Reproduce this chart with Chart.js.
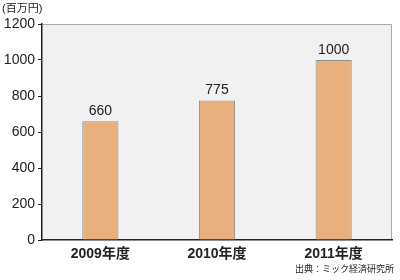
<!DOCTYPE html>
<html lang="ja">
<head>
<meta charset="UTF-8">
<title>売上推移</title>
<script src="https://cdn.jsdelivr.net/npm/chart.js"></script>
<style>
  html, body { margin: 0; padding: 0; background: #fff; }
  #wrap { width: 400px; height: 280px; }
</style>
</head>
<body>
<div id="wrap"><canvas id="c" width="400" height="280"></canvas></div>
<script>
// data
var years = ['2009年度', '2010年度', '2011年度'];
var sales = [660, 775, 1000];
var yTicks = [0, 200, 400, 600, 800, 1000, 1200];
var unitLabel = '(百万円)';
var sourceLabel = '出典：ミック経済研究所';

var font = '"Liberation Sans", "Noto Sans CJK JP", sans-serif';

// background, value labels, unit and source text
var extras = {
  id: 'extras',
  beforeDraw: function (chart) {
    var a = chart.chartArea, ctx = chart.ctx;
    ctx.save();
    ctx.fillStyle = '#f1f1f1';
    ctx.fillRect(a.left, a.top, a.right - a.left, a.bottom - a.top);
    ctx.strokeStyle = '#aaa';
    ctx.lineWidth = 1;
    ctx.beginPath();
    ctx.moveTo(a.left, a.top + 0.5);
    ctx.lineTo(a.right - 0.5, a.top + 0.5);
    ctx.lineTo(a.right - 0.5, a.bottom);
    ctx.stroke();
    ctx.restore();
  },
  afterDraw: function (chart) {
    var ctx = chart.ctx;
    var meta = chart.getDatasetMeta(0);
    ctx.save();
    ctx.fillStyle = '#222';
    ctx.font = '14px ' + font;
    ctx.textAlign = 'center';
    ctx.textBaseline = 'bottom';
    meta.data.forEach(function (bar, i) {
      ctx.fillText(String(sales[i]), bar.x, bar.y - 3);
    });
    ctx.font = '11px ' + font;
    ctx.textAlign = 'left';
    ctx.textBaseline = 'middle';
    ctx.fillText(unitLabel, 2, 9);
    ctx.font = '9px ' + font;
    ctx.textAlign = 'right';
    ctx.fillText(sourceLabel, 394, 270);
    ctx.restore();
  }
};

new Chart(document.getElementById('c'), {
  type: 'bar',
  data: {
    labels: years,
    datasets: [{
      data: sales,
      backgroundColor: '#e8b07c',
      borderColor: '#8e8e8e',
      borderWidth: 1,
      barPercentage: 0.62,
      categoryPercentage: 0.5
    }]
  },
  options: {
    responsive: false,
    animation: false,
    layout: { padding: { top: 24, right: 8, bottom: 0, left: 0 } },
    plugins: {
      legend: { display: false },
      tooltip: { enabled: false }
    },
    scales: {
      x: {
        grid: { display: false, drawTicks: false },
        border: { color: '#222', width: 1.5 },
        ticks: {
          color: '#222',
          padding: 6,
          font: { family: font, size: 14, weight: 'bold' }
        },
        afterFit: function (s) { s.height = 40; }
      },
      y: {
        min: 0,
        max: 1200,
        afterBuildTicks: function (s) {
          s.ticks = yTicks.map(function (v) { return { value: v }; });
        },
        grid: {
          display: true,
          drawOnChartArea: false,
          drawTicks: true,
          tickLength: 4,
          color: '#222'
        },
        border: { color: '#222', width: 1.5 },
        ticks: {
          color: '#222',
          padding: 3,
          font: { family: font, size: 14 },
          callback: function (v) { return String(v); }
        },
        afterFit: function (s) { s.width = 42; }
      }
    }
  },
  plugins: [extras]
});
</script>
</body>
</html>
